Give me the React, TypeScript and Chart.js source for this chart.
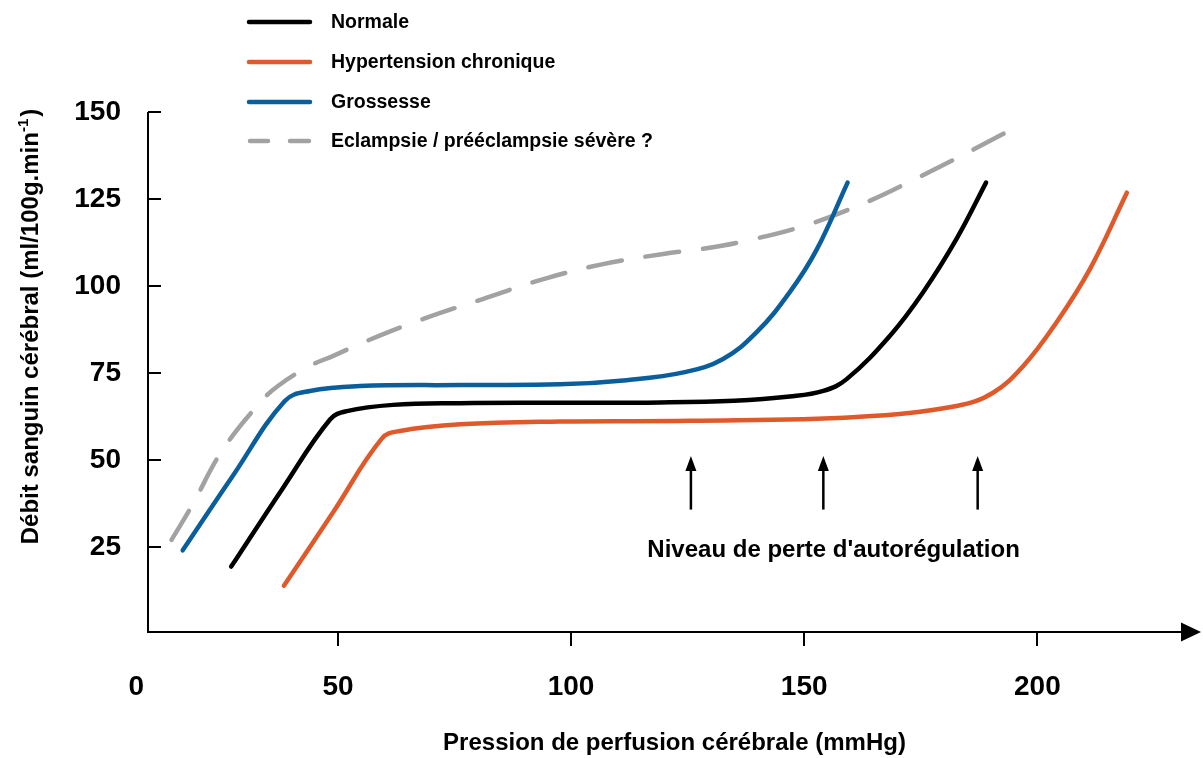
import React, { useEffect, useRef } from 'react';
import { Chart, registerables } from 'chart.js';

Chart.register(...registerables);

// ---- Data (x: pression de perfusion cérébrale mmHg, y: débit ml/100g/min) ----
const normaleX = [27.1, 38.0, 48.3, 51.9, 61.8, 76.2, 97.6, 119.1, 135.0, 146.9, 154.1, 159.1, 168.4, 175.5, 182.7, 189.0];
const normaleY = [19.3, 41.5, 61.6, 64.0, 65.8, 66.3, 66.4, 66.5, 67.0, 68.2, 69.8, 73.2, 85.7, 98.2, 113.6, 129.7];

const hypertensionX = [38.4, 49.0, 59.4, 63.3, 76.2, 97.6, 125.5, 161.2, 182.7, 190.5, 197.0, 204.1, 211.3, 219.2];
const hypertensionY = [13.8, 35.0, 56.1, 58.3, 60.2, 61.0, 61.2, 62.3, 65.5, 69.3, 77.0, 89.5, 104.9, 126.8];

const grossesseX = [16.7, 27.5, 38.6, 44.0, 54.7, 76.2, 97.6, 111.9, 124.4, 132.6, 139.8, 146.9, 152.7, 159.3];
const grossesseY = [24.0, 45.5, 66.9, 69.8, 71.2, 71.5, 71.7, 72.9, 75.2, 79.0, 86.7, 98.2, 110.5, 129.7];

const eclampsieX = [14.3, 18.6, 25.1, 33.3, 37.2, 44.0, 49.0, 56.2, 68.3, 81.2, 93.7, 106.6, 119.8, 128.0, 136.2, 149.8, 162.7, 174.8, 187.0, 195.2];
const eclampsieY = [27.0, 36.6, 52.5, 66.5, 71.3, 77.0, 79.9, 84.2, 90.5, 96.3, 101.8, 106.2, 109.2, 110.6, 112.6, 117.2, 123.7, 131.4, 139.7, 145.5];

const seriesLabels = ['Normale', 'Hypertension chronique', 'Grossesse', 'Eclampsie / prééclampsie sévère ?'];

const xTickValues = [9.26, 50, 100, 150, 200];
const xTickLabels = ['0   ', '50', '100', '150', '200'];
const yTickValues = [25, 50, 75, 100, 125, 150];

const arrowX = [125.7, 154.1, 187.2];
const arrowFromY = 35.7;
const arrowToY = 51.1;
const annotationText = "Niveau de perte d'autorégulation";
const annotationX = 156.3;
const annotationY = 22.1;

const xTitle = 'Pression de perfusion cérébrale (mmHg)';
const yTitleMain = 'Débit sanguin cérébral (ml/100g.min';
const yTitleSup = '-1';
const yTitleEnd = ')';

const FONT = "'Liberation Sans', Arial, Helvetica, sans-serif";
const COLORS = ['#000000', '#e0592a', '#0b5e9c', '#a2a2a2'];

const toPoints = (xs: number[], ys: number[]) => xs.map((x, i) => ({ x, y: ys[i] }));

const decorPlugin = {
  id: 'decor',
  afterDraw(chart: any) {
    const { ctx } = chart;
    const xs = chart.scales.x;
    const ys = chart.scales.y;
    const area = chart.chartArea;
    ctx.save();
    ctx.strokeStyle = '#000';
    ctx.fillStyle = '#000';
    ctx.lineWidth = 2;
    ctx.lineCap = 'butt';

    // axes
    const x0 = area.left;
    const y0 = area.bottom;
    ctx.beginPath();
    ctx.moveTo(x0, area.top);
    ctx.lineTo(x0, y0 + 1);
    ctx.moveTo(x0 - 1, y0);
    ctx.lineTo(area.right - 18, y0);
    ctx.stroke();
    // arrowhead on x axis
    ctx.beginPath();
    ctx.moveTo(area.right, y0);
    ctx.lineTo(area.right - 20, y0 - 9.5);
    ctx.lineTo(area.right - 20, y0 + 9.5);
    ctx.closePath();
    ctx.fill();

    // y ticks (inward)
    yTickValues.forEach((v) => {
      const p = Math.round(ys.getPixelForValue(v));
      ctx.beginPath();
      ctx.moveTo(x0, p);
      ctx.lineTo(x0 + 13, p);
      ctx.stroke();
    });
    // x ticks (downward)
    xTickValues.slice(1).forEach((v) => {
      const p = Math.round(xs.getPixelForValue(v));
      ctx.beginPath();
      ctx.moveTo(p, y0);
      ctx.lineTo(p, y0 + 14);
      ctx.stroke();
    });

    // annotation arrows
    ctx.lineWidth = 2.5;
    arrowX.forEach((v) => {
      const px = xs.getPixelForValue(v);
      const pTail = ys.getPixelForValue(arrowFromY);
      const pTip = ys.getPixelForValue(arrowToY);
      ctx.beginPath();
      ctx.moveTo(px, pTail);
      ctx.lineTo(px, pTip + 12);
      ctx.stroke();
      ctx.beginPath();
      ctx.moveTo(px, pTip);
      ctx.lineTo(px - 5.5, pTip + 15);
      ctx.lineTo(px + 5.5, pTip + 15);
      ctx.closePath();
      ctx.fill();
    });

    // annotation text
    ctx.font = `bold 24px ${FONT}`;
    ctx.textAlign = 'center';
    ctx.textBaseline = 'alphabetic';
    ctx.fillText(annotationText, xs.getPixelForValue(annotationX), ys.getPixelForValue(annotationY));

    // y-axis title with superscript
    ctx.save();
    ctx.translate(38, 326.5);
    ctx.rotate(-Math.PI / 2);
    ctx.textAlign = 'left';
    ctx.textBaseline = 'alphabetic';
    ctx.font = `bold 24px ${FONT}`;
    const wMain = ctx.measureText(yTitleMain).width;
    const wEnd = ctx.measureText(yTitleEnd).width;
    ctx.font = `bold 15px ${FONT}`;
    const wSup = ctx.measureText(yTitleSup).width;
    const total = wMain + wSup + wEnd + 2;
    let cx = -total / 2;
    ctx.font = `bold 24px ${FONT}`;
    ctx.fillText(yTitleMain, cx, 0);
    cx += wMain;
    ctx.font = `bold 15px ${FONT}`;
    ctx.fillText(yTitleSup, cx, -10);
    cx += wSup + 2;
    ctx.font = `bold 24px ${FONT}`;
    ctx.fillText(yTitleEnd, cx, 0);
    ctx.restore();

    // legend
    const rows = [22, 62, 102, 141];
    chart.data.datasets.forEach((ds: any, i: number) => {
      const yy = rows[i];
      ctx.strokeStyle = ds.borderColor;
      ctx.lineWidth = 4.5;
      ctx.lineCap = 'round';
      ctx.beginPath();
      if (ds.borderDash && ds.borderDash.length) {
        ctx.moveTo(250, yy);
        ctx.lineTo(268, yy);
        ctx.moveTo(290, yy);
        ctx.lineTo(309, yy);
      } else {
        ctx.moveTo(249, yy);
        ctx.lineTo(310, yy);
      }
      ctx.stroke();
      ctx.fillStyle = '#000';
      ctx.font = `bold 19.5px ${FONT}`;
      ctx.textAlign = 'left';
      ctx.textBaseline = 'middle';
      ctx.fillText(ds.label, 331, yy + 1);
    });
    ctx.restore();
  },
};

export default function App() {
  const canvasRef = useRef<HTMLCanvasElement | null>(null);

  useEffect(() => {
    document.body.style.margin = '0';
    const canvas = canvasRef.current;
    if (!canvas) return;
    const allX = [normaleX, hypertensionX, grossesseX, eclampsieX];
    const allY = [normaleY, hypertensionY, grossesseY, eclampsieY];
    const datasets = allX.map((xs, i) => ({
      label: seriesLabels[i],
      data: toPoints(xs, allY[i]),
      borderColor: COLORS[i],
      backgroundColor: COLORS[i],
      borderWidth: 4.5,
      pointRadius: 0,
      pointHoverRadius: 0,
      fill: false,
      tension: 0.4,
      borderCapStyle: 'round' as const,
      borderJoinStyle: 'round' as const,
      borderDash: i === 3 ? [34, 24] : [],
    }));

    const chart = new Chart(canvas, {
      type: 'line',
      data: { datasets },
      options: {
        responsive: false,
        animation: false,
        devicePixelRatio: 1,
        layout: { padding: { top: 112, right: 2, bottom: 0, left: 0 } },
        plugins: { legend: { display: false }, tooltip: { enabled: false } },
        scales: {
          x: {
            type: 'linear',
            min: 9.26,
            max: 235.1,
            afterBuildTicks: (axis: any) => {
              axis.ticks = xTickValues.map((v) => ({ value: v }));
            },
            afterFit: (s: any) => {
              s.height = 126;
            },
            grid: { display: false, drawTicks: false },
            border: { display: false },
            ticks: {
              autoSkip: false,
              maxRotation: 0,
              padding: 38,
              color: '#000',
              font: { family: FONT, size: 28, weight: 'bold' },
              callback: (_v: any, i: number) => xTickLabels[i],
            },
            title: {
              display: true,
              text: xTitle,
              color: '#000',
              font: { family: FONT, size: 24, weight: 'bold' },
              padding: { top: 0, bottom: 0 },
            },
          },
          y: {
            type: 'linear',
            min: 0.5,
            max: 150,
            afterBuildTicks: (axis: any) => {
              axis.ticks = yTickValues.map((v) => ({ value: v }));
            },
            afterFit: (s: any) => {
              s.width = 148;
            },
            grid: { display: false, drawTicks: false },
            border: { display: false },
            ticks: {
              padding: 27,
              color: '#000',
              font: { family: FONT, size: 28, weight: 'bold' },
              callback: (v: any) => String(v),
            },
          },
        },
      },
      plugins: [decorPlugin],
    });
    return () => chart.destroy();
  }, []);

  return <canvas ref={canvasRef} width={1203} height={758} style={{ display: 'block' }} />;
}
